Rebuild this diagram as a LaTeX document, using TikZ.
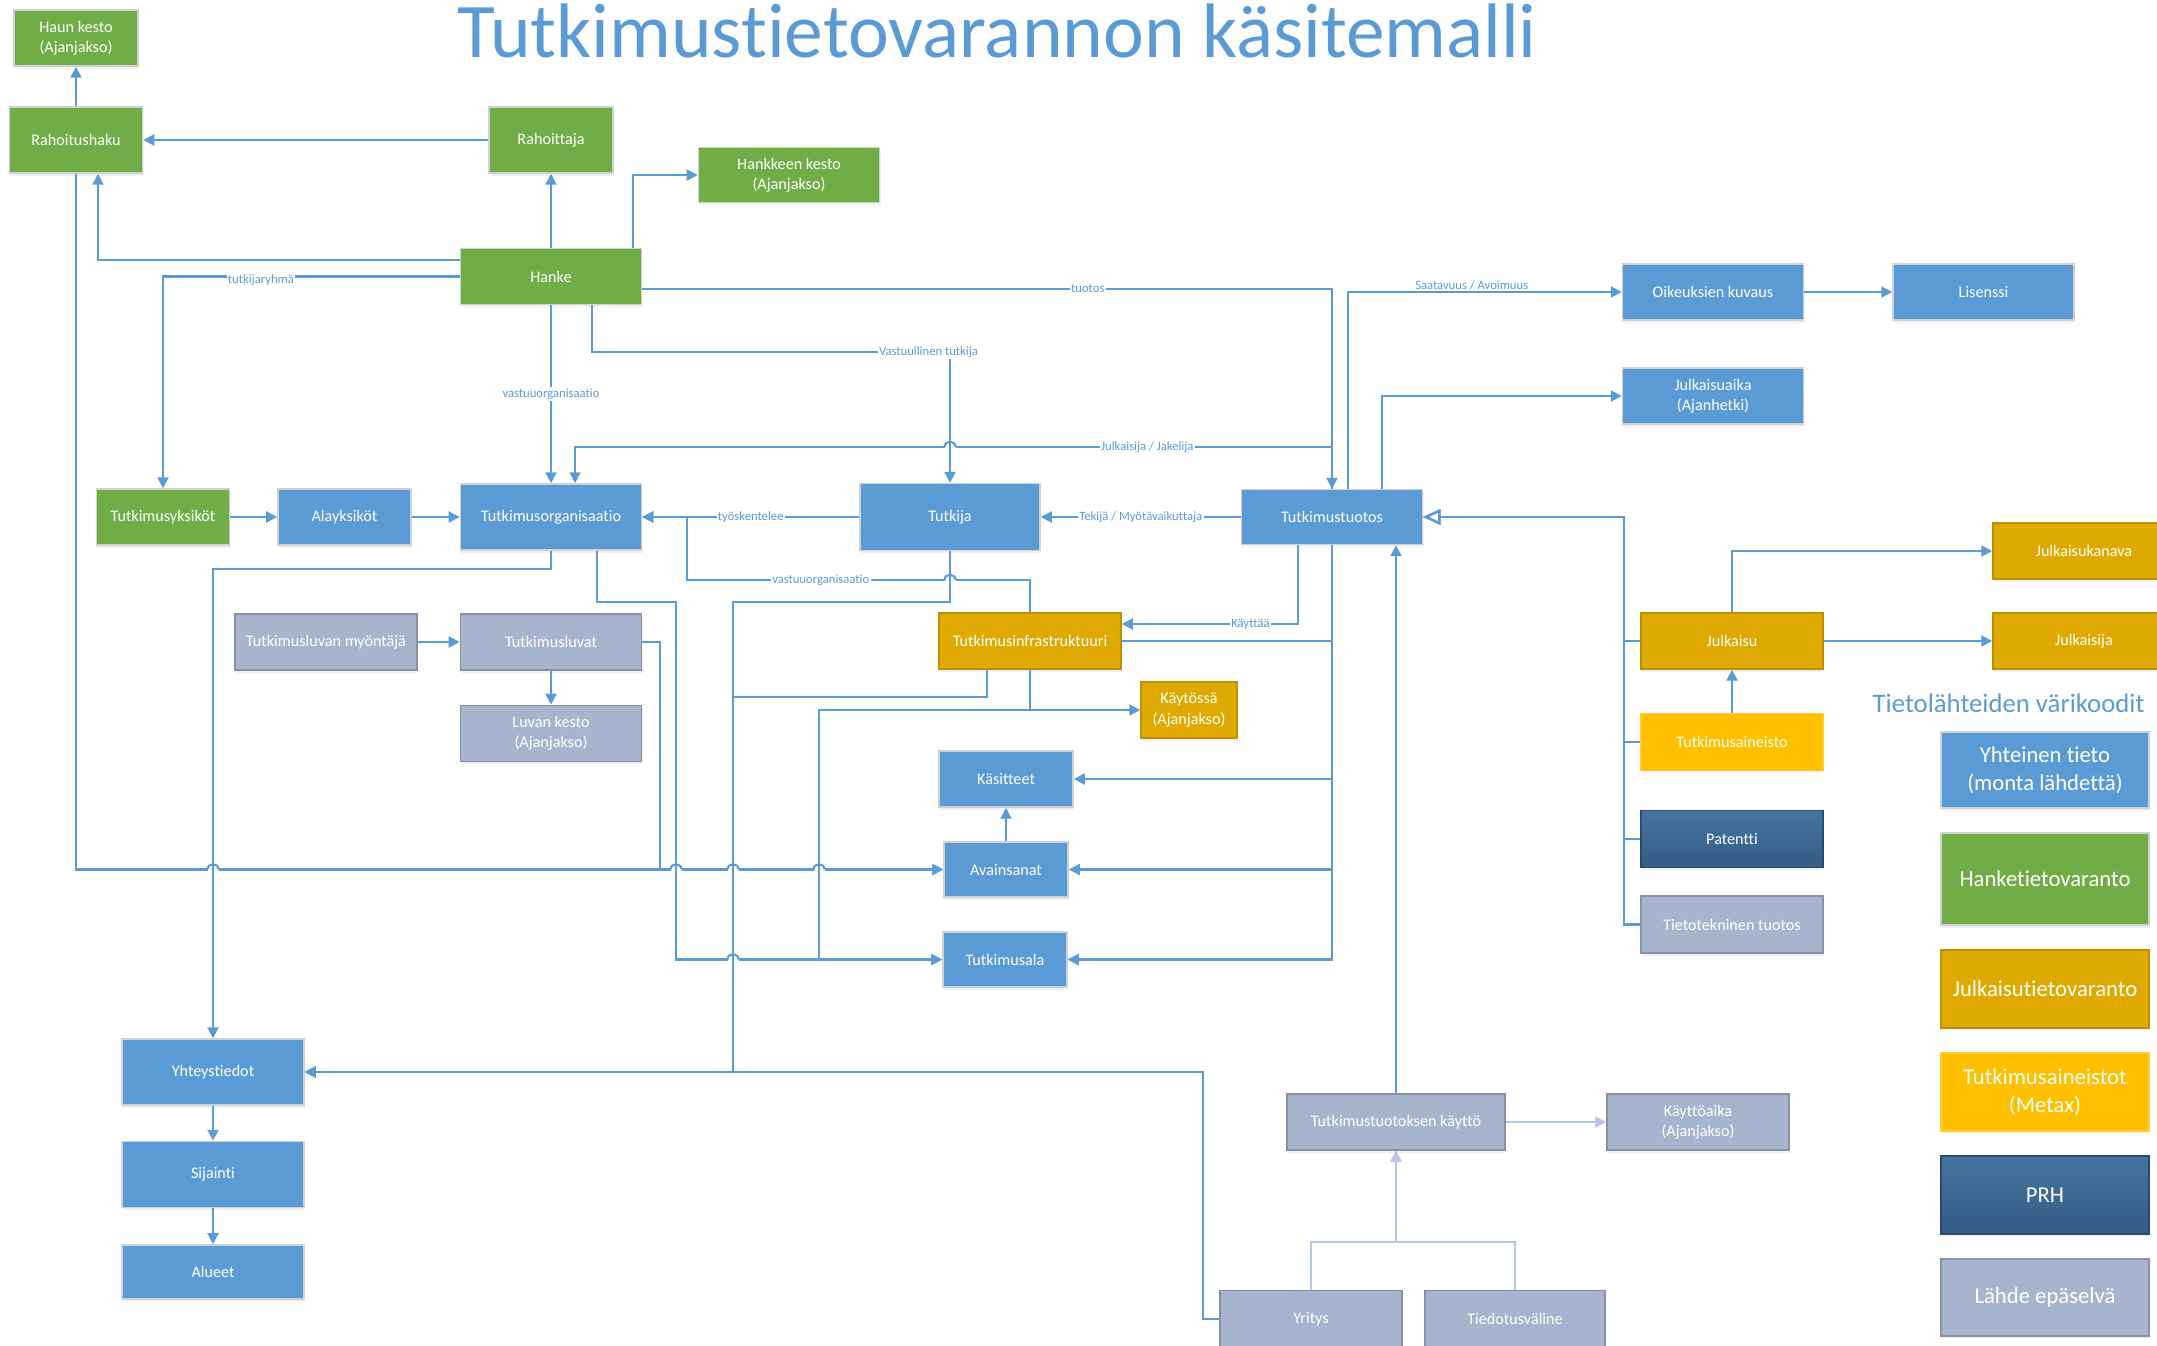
\documentclass[tikz,border=0pt]{standalone}
\usepackage{fontspec}
\setmainfont{Carlito}[Ligatures=NoCommon]
\usetikzlibrary{arrows.meta,positioning,shadows}

\definecolor{linkblue}{HTML}{5B9BD5}
\definecolor{sharedblue}{HTML}{5B9BD5}
\definecolor{projgreen}{HTML}{70AD47}
\definecolor{pubgold}{HTML}{DEA900}
\definecolor{dataamber}{HTML}{FFC000}
\definecolor{prhtop}{HTML}{44749F}
\definecolor{prhbottom}{HTML}{345D86}
\definecolor{grayblue}{HTML}{A6B5CD}
\definecolor{palelink}{HTML}{B4C7E7}

\tikzset{
  box/.style={draw=black!18, text=white, align=center, inner sep=1pt,
    minimum width=1.81cm, minimum height=0.56cm,
    font=\fontsize{4.6}{5.7}\selectfont,
    drop shadow={opacity=0.12, shadow xshift=0.01cm, shadow yshift=-0.025cm}},
  shared/.style={box, fill=sharedblue},
  proj/.style={box, fill=projgreen},
  pub/.style={box, fill=pubgold, draw=pubgold!85!black},
  data/.style={box, fill=dataamber, draw=dataamber!80!white},
  prh/.style={box, top color=prhtop, bottom color=prhbottom, draw=prhbottom!80!black},
  unknownsrc/.style={box, fill=grayblue, draw=grayblue!80!black},
  legendbox/.style={minimum width=2.08cm, font=\fontsize{6.45}{8}\selectfont},
  link/.style={draw=linkblue, line width=0.6pt},
  arr/.style={link, -{Triangle[length=0.11cm, width=0.11cm]}},
  gen/.style={link, -{Triangle[open, length=0.17cm, width=0.15cm]}},
  faint/.style={draw=palelink, line width=0.6pt},
  faintarr/.style={faint, -{Triangle[length=0.11cm, width=0.11cm]}},
  lbl/.style={font=\fontsize{3.6}{4.3}\selectfont, text=linkblue, fill=white, inner sep=0.4pt}
}

\newcommand{\linkhop}[2]{%
  \fill[white] (#1-5.5,#2-1.8) rectangle (#1+5.5,#2+1.8);
  \draw[link] (#1,#2-4) -- (#1,#2+4);
  \draw[link] (#1-5.5,#2) .. controls (#1-5.5,#2-7) and (#1+5.5,#2-7) .. (#1+5.5,#2);}

\begin{document}
\begin{tikzpicture}[x=0.01cm, y=-0.01cm]
\useasboundingbox (0,0) rectangle (2157,1345);
\clip (0,0) rectangle (2157,1345);

\node[font=\fontsize{22}{26}\selectfont, text=linkblue, anchor=base] (title) at (997,57) {Tutkimustietovarannon käsitemalli};

\node[proj, minimum width=1.24cm] (haunkesto) at (76,38) {Haun kesto\\(Ajanjakso)};
\node[proj, minimum width=1.33cm, minimum height=0.66cm] (rahoitushaku) at (76,140) {Rahoitushaku};
\node[proj, minimum width=1.24cm, minimum height=0.66cm] (rahoittaja) at (551,140) {Rahoittaja};
\node[proj, minimum height=0.55cm] (hankkeenkesto) at (789,175) {Hankkeen kesto\\(Ajanjakso)};
\node[proj] (hanke) at (551,276.5) {Hanke};

\node[shared] (oikeudet) at (1713,292) {Oikeuksien kuvaus};
\node[shared, right=0.88cm of oikeudet] (lisenssi) {Lisenssi};
\node[shared] (julkaisuaika) at (1713,396) {Julkaisuaika\\(Ajanhetki)};

\node[shared, minimum height=0.66cm] (torg) at (551,517) {Tutkimusorganisaatio};
\node[shared, minimum width=1.33cm, left=0.48cm of torg] (alayksikot) {Alayksiköt};
\node[proj, minimum width=1.33cm, left=0.47cm of alayksikot] (yksikot) {Tutkimusyksiköt};
\node[shared, minimum width=1.8cm, minimum height=0.67cm] (tutkija) at (950,517) {Tutkija};
\node[shared, minimum height=0.55cm] (tuotos) at (1332,517) {Tutkimustuotos};

\node[unknownsrc, minimum width=1.82cm] (myontaja) at (326,642) {Tutkimusluvan myöntäjä};
\node[unknownsrc] (luvat) at (551,642) {Tutkimusluvat};
\node[unknownsrc, below=0.34cm of luvat] (lupakesto) {Luvan kesto\\(Ajanjakso)};

\node[pub, minimum width=1.82cm] (infra) at (1030,641) {Tutkimusinfrastruktuuri};
\node[pub, minimum width=0.96cm] (kaytossa) at (1189,710) {Käytössä\\(Ajanjakso)};
\node[shared, minimum width=1.34cm] (kasitteet) at (1006,779) {Käsitteet};
\node[shared, minimum width=1.24cm, minimum height=0.55cm] (avainsanat) at (1006,869.5) {Avainsanat};
\node[shared, minimum width=1.24cm, minimum height=0.55cm] (ala) at (1005,959.5) {Tutkimusala};

\node[pub, minimum width=1.82cm] (julkaisukanava) at (2084,551) {Julkaisukanava};
\node[pub, minimum width=1.82cm] (julkaisu) at (1732,641) {Julkaisu};
\node[pub, minimum width=1.82cm] (julkaisija) at (2084,641) {Julkaisija};
\node[data, minimum width=1.82cm, minimum height=0.57cm] (aineisto) at (1732,742) {Tutkimusaineisto};
\node[prh, minimum width=1.82cm, minimum height=0.57cm] (patentti) at (1732,839) {Patentti};
\node[unknownsrc, minimum width=1.82cm, minimum height=0.57cm] (tietotekninen) at (1732,924.5) {Tietotekninen tuotos};

\node[shared, minimum width=1.82cm, minimum height=0.66cm] (yhteys) at (213,1072) {Yhteystiedot};
\node[shared, minimum width=1.82cm, minimum height=0.66cm, below=0.35cm of yhteys] (sijainti) {Sijainti};
\node[shared, minimum width=1.82cm, minimum height=0.54cm, below=0.36cm of sijainti] (alueet) {Alueet};

\node[unknownsrc, minimum width=2.18cm] (kaytto) at (1396,1122) {Tutkimustuotoksen käyttö};
\node[unknownsrc, minimum width=1.82cm] (kayttoaika) at (1698,1122) {Käyttöaika\\(Ajanjakso)};
\node[unknownsrc, minimum width=1.82cm, minimum height=0.57cm] (yritys) at (1311,1319) {Yritys};
\node[unknownsrc, minimum width=1.8cm, minimum height=0.57cm] (media) at (1515,1319) {Tiedotusväline};

\node[font=\fontsize{7.6}{9.5}\selectfont, text=linkblue, anchor=base west, inner sep=0] (legendtitle) at (1872,712) {Tietolähteiden värikoodit};
\node[shared, legendbox, minimum height=0.76cm] (legshared) at (2045,770) {Yhteinen tieto\\(monta lähdettä)};
\node[proj, legendbox, minimum height=0.92cm, below=0.235cm of legshared] (legproj) {Hanketietovaranto};
\node[pub, legendbox, minimum height=0.78cm, below=0.235cm of legproj] (legpub) {Julkaisutietovaranto};
\node[data, legendbox, minimum height=0.78cm, below=0.235cm of legpub] (legdata) {Tutkimusaineistot\\(Metax)};
\node[prh, legendbox, minimum height=0.78cm, below=0.235cm of legdata] (legprh) {PRH};
\node[unknownsrc, legendbox, minimum height=0.77cm, below=0.235cm of legprh] (legunclear) {Lähde epäselvä};

\draw[arr] (rahoitushaku) -- (haunkesto);
\draw[arr] (rahoittaja) -- (rahoitushaku);
\draw[arr] (hanke) -- (rahoittaja);
\draw[arr] ([xshift=0.82cm]hanke.north) |- (hankkeenkesto);
\draw[arr] ([yshift=0.165cm]hanke.west) -| ([xshift=0.22cm]rahoitushaku.south);
\draw[arr] (hanke.west) -| node[lbl, pos=0.335, yshift=-0.04cm] {tutkijaryhmä} (yksikot.north);
\draw[arr] (hanke) -- node[lbl] {vastuuorganisaatio} (torg);
\draw[arr] ([xshift=0.41cm]hanke.south) -- ++(0,47) -| node[lbl, pos=0.47] {Vastuullinen tutkija} (tutkija.north);
\draw[arr] ([yshift=-0.125cm]hanke.east) -| node[lbl, pos=0.323] {tuotos} (tuotos.north);
\draw[arr] (tuotos.north) -- ++(0,-42) -| node[lbl, pos=0.122] {Julkaisija / Jakelija} ([xshift=0.24cm]torg.north);
\draw[arr] ([xshift=0.16cm]tuotos.north) |- node[lbl, fill=none, anchor=south, inner sep=0.2pt, pos=0.726] {Saatavuus / Avoimuus} (oikeudet);
\draw[arr] ([xshift=0.5cm]tuotos.north) |- (julkaisuaika);
\draw[arr] (oikeudet) -- (lisenssi);

\draw[arr] (yksikot) -- (alayksikot);
\draw[arr] (alayksikot) -- (torg);
\draw[arr] (tutkija) -- node[lbl] {työskentelee} (torg);
\draw[arr] (tuotos) -- node[lbl] {Tekijä / Myötävaikuttaja} (tutkija);
\foreach \n in {julkaisu,aineisto,patentti,tietotekninen}
  \draw[gen] (\n.west) -- ++(-16,0) |- (tuotos.east);
\draw[arr] (aineisto) -- (julkaisu);
\draw[arr] (julkaisu) -- (julkaisija);
\draw[arr] (julkaisu.north) |- (julkaisukanava);

\draw[arr] ([xshift=-0.34cm]tuotos.south) |- node[lbl, pos=0.635] {Käyttää} ([yshift=0.17cm]infra.east);
\draw[arr] (tuotos.south) |- (kasitteet);
\draw[arr] (tuotos.south) |- (avainsanat);
\draw[arr] (tuotos.south) |- (ala);
\draw[arr] (infra.east) -- (infra.east -| tuotos.south) |- (ala.east);
\draw[arr] (infra.south) |- (kaytossa);
\draw[arr] (infra.south) |- (819,710) |- (ala.west);
\draw[arr] (infra.north) |- node[lbl, pos=0.805] {vastuuorganisaatio} (687,580) |- (torg.east);
\draw[arr] ([xshift=-0.43cm]infra.south) |- (733,697) |- (yhteys.east);
\draw[arr] (avainsanat) -- (kasitteet);

\draw[arr] (tutkija.south) |- (733,602) |- (yhteys.east);
\draw[arr] (torg.south) -- ++(0,18) -| (yhteys.north);
\draw[arr] ([xshift=0.46cm]torg.south) |- (676,602) |- (ala.west);
\draw[arr] (rahoitushaku.south) |- (avainsanat.west);
\draw[arr] (luvat.east) -- ++(18,0) |- (avainsanat.west);
\draw[arr] (myontaja) -- (luvat);
\draw[arr] (luvat) -- (lupakesto);
\draw[arr] (yhteys) -- (sijainti);
\draw[arr] (sijainti) -- (alueet);
\draw[arr] (yritys.west) -- ++(-16,0) |- (yhteys.east);

\draw[arr] (kaytto) -- (kaytto |- tuotos.south);
\draw[faintarr] (kaytto) -- (kayttoaika);
\draw[faintarr] (yritys.north) -- ++(0,-48) -| (kaytto.south);
\draw[faintarr] (media.north) -- ++(0,-48) -| (kaytto.south);

\linkhop{950}{447}
\linkhop{950}{580}
\linkhop{213}{869.5}
\linkhop{676}{869.5}
\linkhop{733}{869.5}
\linkhop{819}{869.5}
\linkhop{733}{959.5}
\end{tikzpicture}
\end{document}
